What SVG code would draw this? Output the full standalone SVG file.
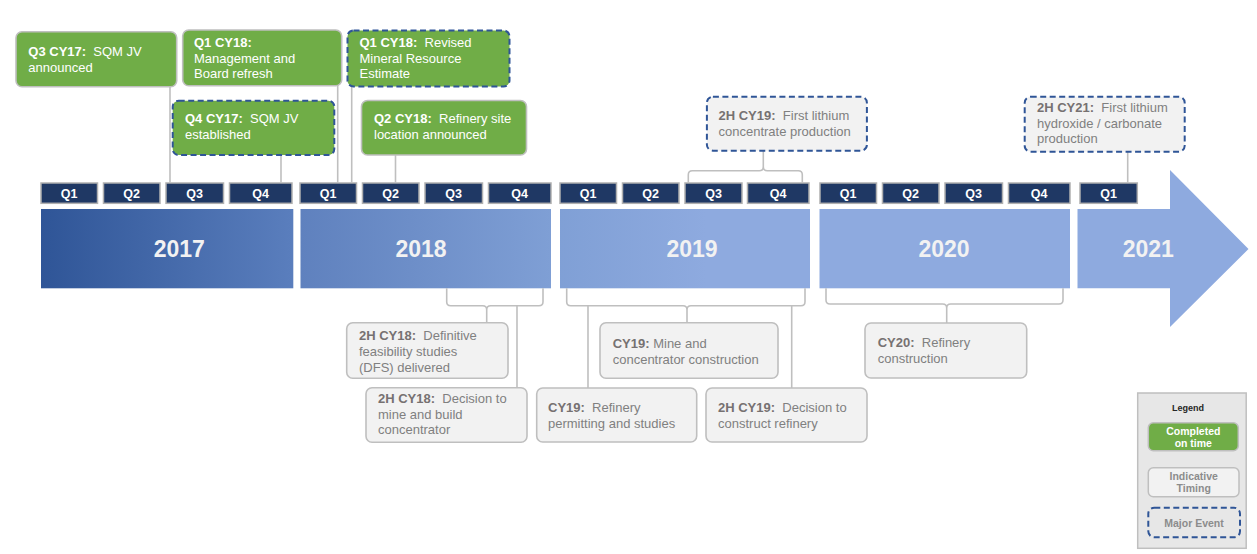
<svg xmlns="http://www.w3.org/2000/svg" width="1257" height="554" viewBox="0 0 1257 554">
<style>
text { font-family: "Liberation Sans", Arial, sans-serif; white-space: pre; }
.g { fill: #70ad47; stroke: #bfbfbf; stroke-width: 1.6; }
.gd { fill: #70ad47; stroke: #2f5597; stroke-width: 2; stroke-dasharray: 6 3.5; }
.w { fill: #f2f2f2; stroke: #bfbfbf; stroke-width: 1.6; }
.wd { fill: #f2f2f2; stroke: #2f5597; stroke-width: 2; stroke-dasharray: 6 3.5; }
.tw { fill: #ffffff; font-size: 13px; }
.tg { fill: #808080; font-size: 13px; }
.tg .b { fill: #767171; }
.b { font-weight: bold; }
.q { fill: #1f3864; stroke: #b0b0b0; stroke-width: 1.5; }
.ql { fill: #ffffff; font-size: 12.5px; font-weight: bold; text-anchor: middle; }
.yr { fill: #f2f2f2; font-size: 23px; font-weight: bold; text-anchor: middle; }
.bar { fill: url(#barGrad); }
.con { fill: none; stroke: #bfbfbf; stroke-width: 1.6; }
</style>
<defs>
<linearGradient id="barGrad" gradientUnits="userSpaceOnUse" x1="41" y1="0" x2="1250" y2="0">
<stop offset="0" stop-color="#2f5597"/>
<stop offset="0.208" stop-color="#5a7ebd"/>
<stop offset="0.215" stop-color="#5f81be"/>
<stop offset="0.422" stop-color="#7f9fd5"/>
<stop offset="0.55" stop-color="#8eaadf"/>
<stop offset="1" stop-color="#8eaadf"/>
</linearGradient>
</defs>
<rect x="0" y="0" width="1257" height="554" fill="#ffffff"/>

<g id="timeline">
<rect class="bar" x="41" y="209" width="252.3" height="79.3"/>
<rect class="bar" x="300.5" y="209" width="250.5" height="79.3"/>
<rect class="bar" x="560" y="209" width="250" height="79.3"/>
<rect class="bar" x="819.5" y="209" width="250.5" height="79.3"/>
<path class="bar" d="M1077.5 209 H1170 V170 L1248.5 249 L1170 327 V288.3 H1077.5 Z"/>
<text class="yr" x="179.3" y="257">2017</text>
<text class="yr" x="421" y="257">2018</text>
<text class="yr" x="692" y="257">2019</text>
<text class="yr" x="944" y="257">2020</text>
<text class="yr" x="1148.3" y="257">2021</text>
</g>

<g id="quarters">
<rect class="q" x="41" y="183" width="56.5" height="20.3"/><text class="ql" x="69.2" y="197.7">Q1</text>
<rect class="q" x="103.5" y="183" width="56.5" height="20.3"/><text class="ql" x="131.7" y="197.7">Q2</text>
<rect class="q" x="166" y="183" width="57.5" height="20.3"/><text class="ql" x="194.7" y="197.7">Q3</text>
<rect class="q" x="229.5" y="183" width="62.5" height="20.3"/><text class="ql" x="260.7" y="197.7">Q4</text>
<rect class="q" x="300" y="183" width="56.5" height="20.3"/><text class="ql" x="328.2" y="197.7">Q1</text>
<rect class="q" x="362.5" y="183" width="56.5" height="20.3"/><text class="ql" x="390.7" y="197.7">Q2</text>
<rect class="q" x="425" y="183" width="57.5" height="20.3"/><text class="ql" x="453.7" y="197.7">Q3</text>
<rect class="q" x="488.5" y="183" width="62.5" height="20.3"/><text class="ql" x="519.7" y="197.7">Q4</text>
<rect class="q" x="560" y="183" width="56.5" height="20.3"/><text class="ql" x="588.2" y="197.7">Q1</text>
<rect class="q" x="622.5" y="183" width="56.5" height="20.3"/><text class="ql" x="650.7" y="197.7">Q2</text>
<rect class="q" x="685" y="183" width="57" height="20.3"/><text class="ql" x="713.5" y="197.7">Q3</text>
<rect class="q" x="747.5" y="183" width="61.5" height="20.3"/><text class="ql" x="778.2" y="197.7">Q4</text>
<rect class="q" x="820" y="183" width="56.5" height="20.3"/><text class="ql" x="848.2" y="197.7">Q1</text>
<rect class="q" x="882.5" y="183" width="56.5" height="20.3"/><text class="ql" x="910.7" y="197.7">Q2</text>
<rect class="q" x="945" y="183" width="57.5" height="20.3"/><text class="ql" x="973.7" y="197.7">Q3</text>
<rect class="q" x="1008.5" y="183" width="61.5" height="20.3"/><text class="ql" x="1039.2" y="197.7">Q4</text>
<rect class="q" x="1080" y="183" width="57.3" height="20.3"/><text class="ql" x="1108.6" y="197.7">Q1</text>
</g>

<g id="connectors">
<path class="con" d="M170 86.7 V183"/>
<path class="con" d="M281 155 V183"/>
<path class="con" d="M337.7 85.7 V183"/>
<path class="con" d="M351.7 86.5 V183"/>
<path class="con" d="M395.5 155 V183"/>
<path class="con" d="M1127.7 151.7 V183"/>
<path class="con" d="M688.3 183 V174.7 Q688.3 170.7 692.3 170.7 H759.3 Q763.3 170.7 763.3 166.7 V150.7 M763.3 166.7 Q763.3 170.7 767.3 170.7 H798.3 Q802.3 170.7 802.3 174.7 V183"/>
<path class="con" d="M446.7 288.3 V301.7 Q446.7 305.7 450.7 305.7 H482.7 Q486.7 305.7 486.7 309.7 V322.7 M486.7 309.7 Q486.7 305.7 490.7 305.7 H539 Q543 305.7 543 301.7 V288.3"/>
<path class="con" d="M517 305.7 V387.7"/>
<path class="con" d="M566.7 288.3 V301.7 Q566.7 305.7 570.7 305.7 H683 Q687 305.7 687 309.7 V322.7 M687 309.7 Q687 305.7 691 305.7 H801 Q805 305.7 805 301.7 V288.3"/>
<path class="con" d="M588 305.7 V388"/>
<path class="con" d="M791.7 305.7 V388"/>
<path class="con" d="M826 288.3 V300 Q826 304 830 304 H942.7 Q946.7 304 946.7 308 V323 M946.7 308 Q946.7 304 950.7 304 H1059 Q1063 304 1063 300 V288.3"/>
</g>

<g id="n-q3cy17">
<rect class="g" x="16" y="31.7" width="160.7" height="55" rx="6"/>
<text class="tw" x="28.3" y="55.7"><tspan class="b">Q3 CY17:</tspan> &#160;SQM JV</text>
<text class="tw" x="28.3" y="71.7">announced</text>
</g>
<g id="n-q1cy18-mgmt">
<rect class="g" x="182.7" y="30" width="159" height="55.7" rx="6"/>
<text class="tw b" x="194" y="46.7">Q1 CY18:</text>
<text class="tw" x="194" y="62.5">Management and</text>
<text class="tw" x="194" y="78.3">Board refresh</text>
</g>
<g id="n-q1cy18-mre">
<rect class="gd" x="347.5" y="30.5" width="162" height="56" rx="6"/>
<text class="tw" x="359.5" y="46.7"><tspan class="b">Q1 CY18:</tspan> &#160;Revised</text>
<text class="tw" x="359.5" y="62.5">Mineral Resource</text>
<text class="tw" x="359.5" y="78.3">Estimate</text>
</g>
<g id="n-q4cy17">
<rect class="gd" x="172.7" y="100.7" width="161.6" height="54.3" rx="6"/>
<text class="tw" x="185" y="123.3"><tspan class="b">Q4 CY17:</tspan> &#160;SQM JV</text>
<text class="tw" x="185" y="139.3">established</text>
</g>
<g id="n-q2cy18">
<rect class="g" x="361.5" y="100.5" width="165" height="54.5" rx="6"/>
<text class="tw" x="374" y="123.3"><tspan class="b">Q2 CY18:</tspan> &#160;Refinery site</text>
<text class="tw" x="374" y="139.3">location announced</text>
</g>
<g id="n-2hcy19-conc">
<rect class="wd" x="706.9" y="96.7" width="160" height="54" rx="6"/>
<text class="tg" x="718.5" y="119.5"><tspan class="b">2H CY19:</tspan> &#160;First lithium</text>
<text class="tg" x="718.5" y="135.5">concentrate production</text>
</g>
<g id="n-2hcy21">
<rect class="wd" x="1024.7" y="96.7" width="160" height="55" rx="6"/>
<text class="tg" x="1037" y="111.7"><tspan class="b">2H CY21:</tspan> &#160;First lithium</text>
<text class="tg" x="1037" y="127.5">hydroxide / carbonate</text>
<text class="tg" x="1037" y="143.3">production</text>
</g>

<g id="n-2hcy18-dfs">
<rect class="w" x="346.7" y="322.7" width="161.3" height="55.5" rx="6"/>
<text class="tg" x="359" y="340"><tspan class="b">2H CY18:</tspan> &#160;Definitive</text>
<text class="tg" x="359" y="356">feasibility studies</text>
<text class="tg" x="359" y="371.5">(DFS) delivered</text>
</g>
<g id="n-2hcy18-decision">
<rect class="w" x="366" y="387.7" width="161" height="54.5" rx="6"/>
<text class="tg" x="378" y="403"><tspan class="b">2H CY18:</tspan> &#160;Decision to</text>
<text class="tg" x="378" y="418.5">mine and build</text>
<text class="tg" x="378" y="434">concentrator</text>
</g>
<g id="n-cy19-mine">
<rect class="w" x="600" y="322.7" width="178" height="55.5" rx="6"/>
<text class="tg" x="612.7" y="348.3"><tspan class="b">CY19:</tspan> Mine and</text>
<text class="tg" x="612.7" y="364">concentrator construction</text>
</g>
<g id="n-cy19-refinery">
<rect class="w" x="536.7" y="388" width="160" height="54" rx="6"/>
<text class="tg" x="548" y="411.7"><tspan class="b">CY19:</tspan> &#160;Refinery</text>
<text class="tg" x="548" y="427.7">permitting and studies</text>
</g>
<g id="n-2hcy19-decision">
<rect class="w" x="706" y="388" width="161" height="54" rx="6"/>
<text class="tg" x="718" y="411.7"><tspan class="b">2H CY19:</tspan> &#160;Decision to</text>
<text class="tg" x="718" y="427.7">construct refinery</text>
</g>
<g id="n-cy20">
<rect class="w" x="865" y="323" width="161.7" height="55" rx="6"/>
<text class="tg" x="877.7" y="346.7"><tspan class="b">CY20:</tspan> &#160;Refinery</text>
<text class="tg" x="877.7" y="362.7">construction</text>
</g>

<g id="legend">
<rect x="1137.7" y="393" width="108.5" height="155.3" fill="#e7e7e7" stroke="#bfbfbf" stroke-width="1.5"/>
<text x="1188" y="410.7" font-size="9" font-weight="bold" fill="#262626" text-anchor="middle">Legend</text>
<rect x="1148.3" y="422.7" width="90" height="28" rx="5" fill="#70ad47" stroke="#bfbfbf" stroke-width="1.5"/>
<text x="1193.3" y="434.5" font-size="10.5" font-weight="bold" fill="#ffffff" text-anchor="middle">Completed</text>
<text x="1193.3" y="446.7" font-size="10.5" font-weight="bold" fill="#ffffff" text-anchor="middle">on time</text>
<rect x="1148.3" y="467.7" width="90.7" height="29" rx="5" fill="#f2f2f2" stroke="#bfbfbf" stroke-width="1.5"/>
<text x="1193.7" y="479.5" font-size="10.5" font-weight="bold" fill="#8c8c8c" text-anchor="middle">Indicative</text>
<text x="1193.7" y="492" font-size="10.5" font-weight="bold" fill="#8c8c8c" text-anchor="middle">Timing</text>
<rect x="1148.3" y="507.7" width="91.7" height="29.6" rx="6" fill="#e7e7e7" stroke="#2f5597" stroke-width="2" stroke-dasharray="6 3.5"/>
<text x="1194" y="526.7" font-size="10.5" font-weight="bold" fill="#8c8c8c" text-anchor="middle">Major Event</text>
</g>
</svg>
